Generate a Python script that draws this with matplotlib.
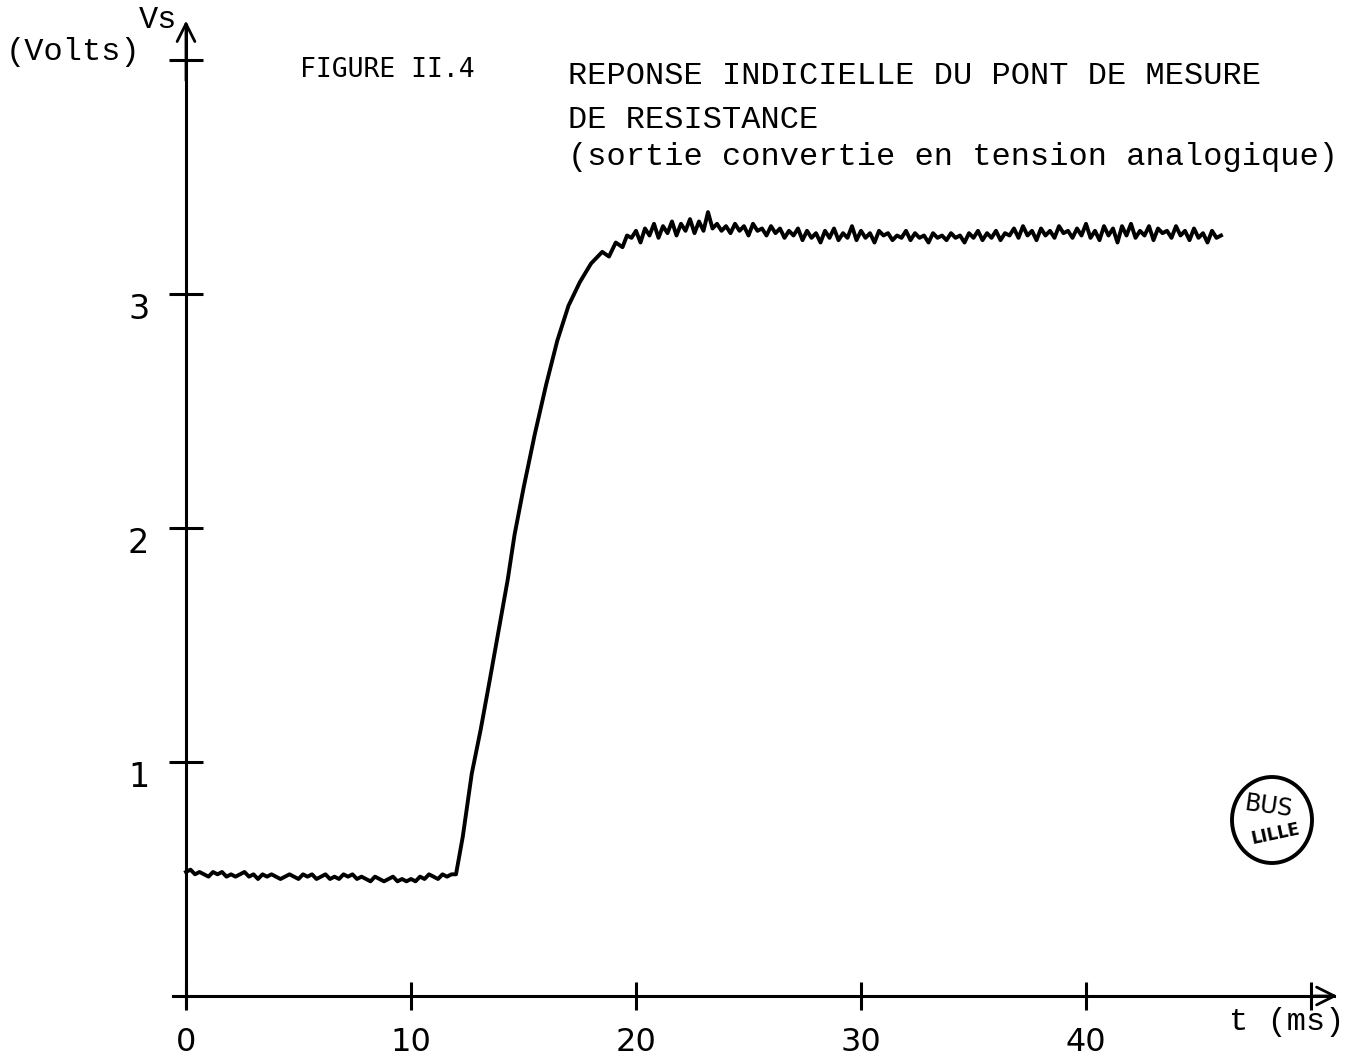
import numpy as np
import matplotlib
matplotlib.use('Agg')
import matplotlib.pyplot as plt
from matplotlib.patches import Ellipse
from matplotlib.transforms import ScaledTranslation

# tension de sortie Vs (V) relevee sur l'enregistrement, pas de 0.2 ms
# palier bas avant l'echelon, t = 0 .. 12 ms
t_low = np.round(np.arange(0.0, 12.01, 0.2), 2)
v_low = [0.53, 0.54, 0.52, 0.53, 0.52, 0.51, 0.53, 0.52, 0.53, 0.51,
         0.52, 0.51, 0.52, 0.53, 0.51, 0.52, 0.50, 0.52, 0.51, 0.52,
         0.51, 0.50, 0.51, 0.52, 0.51, 0.50, 0.52, 0.51, 0.52, 0.50,
         0.51, 0.52, 0.50, 0.51, 0.50, 0.52, 0.51, 0.52, 0.50, 0.51,
         0.50, 0.49, 0.51, 0.50, 0.49, 0.50, 0.51, 0.49, 0.50, 0.49,
         0.50, 0.49, 0.51, 0.50, 0.52, 0.51, 0.50, 0.52, 0.51, 0.52,
         0.52]

# montee
t_rise = [12.3, 12.7, 13.1, 13.5, 14.0, 14.3, 14.6, 15.0, 15.5, 16.0,
          16.5, 17.0, 17.5, 18.0, 18.5, 18.8, 19.1, 19.4, 19.6]
v_rise = [0.68, 0.95, 1.14, 1.35, 1.62, 1.78, 1.97, 2.17, 2.40, 2.61,
          2.80, 2.95, 3.05, 3.13, 3.18, 3.16, 3.22, 3.20, 3.25]

# palier haut, t = 19.8 .. 46 ms
t_high = np.round(np.arange(19.8, 46.01, 0.2), 2)
v_high = [3.24, 3.27, 3.22, 3.28, 3.25, 3.30, 3.24, 3.29, 3.26, 3.31,
          3.25, 3.30, 3.27, 3.32, 3.26, 3.31, 3.27, 3.35, 3.28, 3.30,
          3.27, 3.29, 3.26, 3.30, 3.27, 3.29, 3.25, 3.30, 3.27, 3.28,
          3.25, 3.29, 3.26, 3.28, 3.24, 3.27, 3.25, 3.28, 3.23, 3.27,
          3.24, 3.26, 3.22, 3.27, 3.24, 3.28, 3.23, 3.26, 3.24, 3.29,
          3.23, 3.27, 3.24, 3.26, 3.22, 3.27, 3.25, 3.26, 3.23, 3.25,
          3.24, 3.27, 3.23, 3.26, 3.24, 3.25, 3.22, 3.26, 3.24, 3.25,
          3.23, 3.26, 3.24, 3.25, 3.22, 3.26, 3.24, 3.27, 3.23, 3.26,
          3.24, 3.27, 3.23, 3.26, 3.25, 3.28, 3.24, 3.29, 3.25, 3.27,
          3.23, 3.28, 3.25, 3.27, 3.24, 3.29, 3.26, 3.27, 3.24, 3.28,
          3.25, 3.30, 3.24, 3.27, 3.23, 3.29, 3.25, 3.28, 3.22, 3.29,
          3.25, 3.30, 3.24, 3.27, 3.25, 3.29, 3.23, 3.28, 3.26, 3.27,
          3.24, 3.29, 3.25, 3.27, 3.23, 3.28, 3.24, 3.26, 3.22, 3.27,
          3.24, 3.25]

x_ticks = [0, 10, 20, 30, 40, 50]
x_labels = ['0', '10', '20', '30', '40', '']
y_ticks = [1, 2, 3, 4]
y_labels = ['1', '2', '3', '']

W, H = 1367, 1062


def fx(px):
    return px / W


def fy(py):
    return 1 - py / H


def main():
    t = np.concatenate([t_low, t_rise, t_high])
    v = np.concatenate([v_low, v_rise, v_high])

    fig = plt.figure(figsize=(W / 100, H / 100), dpi=100)
    ax = fig.add_axes([0, 0, 1, 1])
    ax.set_xlim(-186 / 22.5, (W - 186) / 22.5)
    ax.set_ylim((996 - H) / 234, 996 / 234)

    ax.plot(t, v, color='black', lw=2.8, solid_joinstyle='round')

    # axes en croix a l'origine
    for s in ['top', 'right']:
        ax.spines[s].set_visible(False)
    ax.spines['left'].set_position(('data', 0))
    ax.spines['bottom'].set_position(('data', 0))
    ax.spines['left'].set_bounds(-0.05, 4.15)
    ax.spines['bottom'].set_bounds(-0.6, 51.0)
    for s in ['left', 'bottom']:
        ax.spines[s].set_linewidth(2.2)

    ax.set_xticks(x_ticks)
    ax.set_xticklabels(x_labels)
    ax.set_yticks(y_ticks)
    ax.set_yticklabels(y_labels)
    ax.tick_params(axis='x', direction='inout', length=20, width=2.2,
                   pad=12, labelsize=23)
    ax.tick_params(axis='y', direction='inout', length=25, width=2.2,
                   pad=14, labelsize=24)
    # chiffres de l'axe vertical un peu sous les graduations
    down = ScaledTranslation(0, -0.12, fig.dpi_scale_trans)
    for lab in ax.get_yticklabels():
        lab.set_transform(lab.get_transform() + down)

    arrow = dict(arrowstyle='->', lw=2.0, mutation_scale=32, color='black')
    ax.annotate('', xy=(0, 4.18), xytext=(0, 3.9), arrowprops=arrow)
    ax.annotate('', xy=(51.3, 0), xytext=(50.0, 0), arrowprops=arrow)

    mono = 'Liberation Mono'
    fig.text(fx(158), fy(20), 'Vs', family=mono, fontsize=23,
             ha='center', va='center')
    fig.text(fx(73), fy(52), '(Volts)', family=mono, fontsize=23,
             ha='center', va='center')
    fig.text(fx(1287), fy(1022), 't (ms)', family=mono, fontsize=23,
             ha='center', va='center')
    fig.text(fx(300), fy(70), 'FIGURE II.4', family='DejaVu Sans Mono',
             fontsize=19, ha='left', va='center')
    fig.text(fx(568), fy(76), 'REPONSE INDICIELLE DU PONT DE MESURE',
             family=mono, fontsize=23, ha='left', va='center')
    fig.text(fx(568), fy(120), 'DE RESISTANCE',
             family=mono, fontsize=23, ha='left', va='center')
    fig.text(fx(568), fy(157), '(sortie convertie en tension analogique)',
             family=mono, fontsize=23, ha='left', va='center')

    # tampon
    fig.patches.append(Ellipse((fx(1272), fy(820)), 80 / W, 86 / H,
                               transform=fig.transFigure, fill=False,
                               lw=2.8, ec='black'))
    fig.text(fx(1269), fy(806), 'BUS', fontsize=17, rotation=-8,
             ha='center', va='center', family='DejaVu Sans')
    fig.text(fx(1276), fy(834), 'LILLE', fontsize=12, rotation=12,
             ha='center', va='center', family='DejaVu Sans',
             weight='bold')

    fig.savefig('out.png', dpi=100, facecolor='white')


if __name__ == '__main__':
    main()
